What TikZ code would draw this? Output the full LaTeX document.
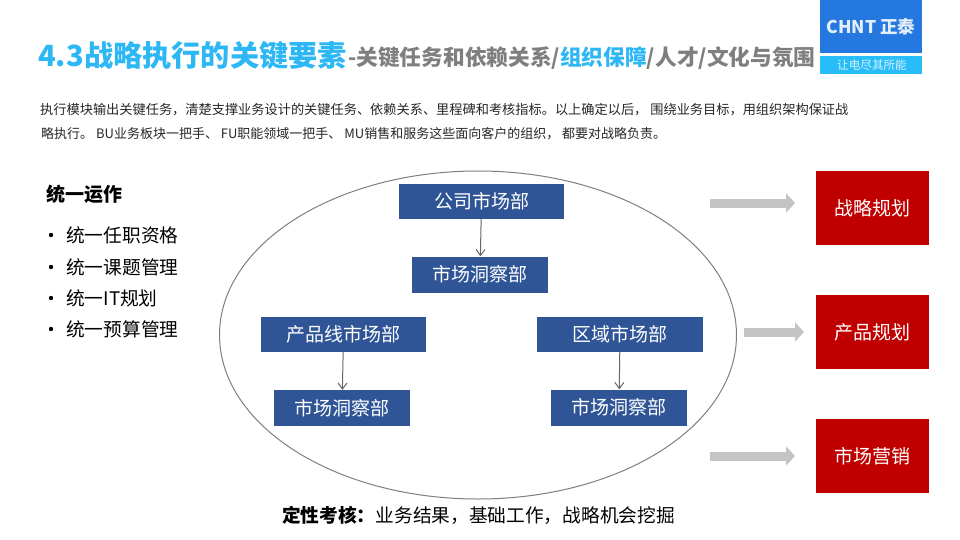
\documentclass[tikz,border=0pt]{standalone}
\usepackage{fontspec}
\setmainfont{Noto Sans CJK SC}
\usetikzlibrary{arrows.meta}
\definecolor{titleblue}{HTML}{2DB7F5}
\definecolor{titlegray}{HTML}{7F7F7F}
\definecolor{boxblue}{HTML}{2F5597}
\definecolor{boxred}{HTML}{C00000}
\definecolor{arrowgray}{HTML}{C4C4C4}
\definecolor{ringgray}{HTML}{7F7F7F}
\definecolor{logoblue}{HTML}{2478E0}
\definecolor{logolight}{HTML}{28BDF8}
\newcommand{\fs}[1]{\fontsize{#1}{#1}\selectfont}
\tikzset{
  x=1pt,y=-1pt,
  org/.style={fill=boxblue,text=white,inner sep=0pt,font=\fs{19}},
  goal/.style={fill=boxred,text=white,inner sep=0pt,font=\fs{19},minimum width=113pt},
  txt/.style={inner sep=0pt,anchor=west},
  link/.style={draw=black!60,line width=1pt,-{Straight Barb[length=6pt,width=9pt]}},
  flow/.style={draw=arrowgray,line width=9pt,-{Triangle[length=9pt,width=19pt]}}
}
\begin{document}
\begin{tikzpicture}
\useasboundingbox (0,0) rectangle (960,540);
\fill[white] (0,0) rectangle (960,540);
% logo
\fill[logoblue] (820,0) rectangle (922,53);
\fill[logolight] (820,56) rectangle (922,74);
\node[inner sep=0pt,text=white!88!logoblue,font=\fs{17.5}\bfseries] (logoa) at (871,27) {CHNT 正泰};
\node[inner sep=0pt,text=white!80!logolight,font=\fs{11.6}] (logob) at (872,65) {让电尽其所能};
% title
\node[txt,font=\fs{29.2}\bfseries,text=titleblue] (t1) at (38,56) {4.3战略执行的关键要素};
\node[txt,font=\fs{21.7}\bfseries,text=titlegray] (t2) at (348,58) {-关键任务和依赖关系/\textcolor{titleblue}{组织保障}/人才/文化与氛围};
% body
\node[txt,font=\fs{13.2},text=black!85] (b1) at (40,110) {执行模块输出关键任务，清楚支撑业务设计的关键任务、依赖关系、里程碑和考核指标。以上确定以后， 围绕业务目标，用组织架构保证战};
\node[txt,font=\fs{13.0},text=black!85] (b2) at (41,134) {略执行。 BU业务板块一把手、 FU职能领域一把手、 MU销售和服务这些面向客户的组织， 都要对战略负责。};
% left list
\node[txt,font=\fs{19}\bfseries] (l0) at (46,194) {统一运作};
\foreach \n/\y/\s in {l1/235/统一任职资格,l2/267/统一课题管理,l3/298/统一IT规划,l4/329/统一预算管理}{
  \node[txt,font=\fs{18.7}] (\n) at (66,\y) {\s};
  \fill (51,\y) circle (2.2);
}
% ellipse
\draw[ringgray,line width=1pt] (478,335) ellipse [x radius=258.5,y radius=164];
% org boxes
\node[org,minimum width=165pt,minimum height=35pt] (a) at (481.5,201.5) {公司市场部};
\node[org,minimum width=136pt,minimum height=36pt] (a2) at (480,274.5) {市场洞察部};
\node[org,minimum width=165pt,minimum height=35pt] (b) at (343.5,334.5) {产品线市场部};
\node[org,minimum width=136pt,minimum height=36pt] (b2) at (342,408) {市场洞察部};
\node[org,minimum width=166pt,minimum height=35pt] (c) at (620,334.5) {区域市场部};
\node[org,minimum width=136pt,minimum height=36pt] (c2) at (619,407.5) {市场洞察部};
\draw[link] (a) -- (a2);
\draw[link] (b) -- (b2);
\draw[link] (c) -- (c2);
% goals
\node[goal,minimum height=74pt] (g1) at (872.5,208) {战略规划};
\node[goal,minimum height=74pt] (g2) at (872.5,332) {产品规划};
\node[goal,minimum height=74pt] (g3) at (872.5,456) {市场营销};
\coordinate (s1) at (710,203); \coordinate (e1) at (795,203);
\coordinate (s2) at (744,332); \coordinate (e2) at (804,332);
\coordinate (s3) at (710,456); \coordinate (e3) at (795,456);
\draw[flow] (s1) -- (e1);
\draw[flow] (s2) -- (e2);
\draw[flow] (s3) -- (e3);
% footer
\node[inner sep=0pt,font=\fs{18.7}] (f) at (478.5,515) {\textbf{定性考核：}业务结果，基础工作，战略机会挖掘};
\end{tikzpicture}
\end{document}
